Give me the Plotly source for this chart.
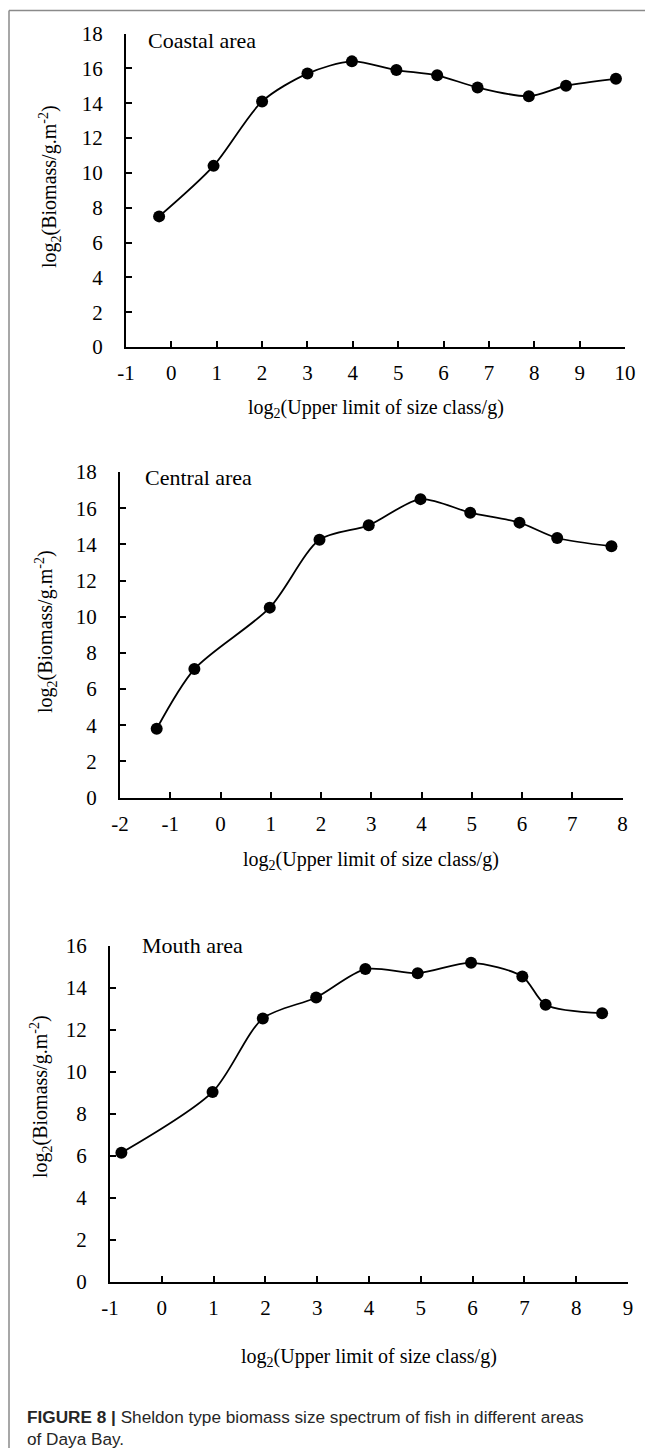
import plotly.graph_objects as go

W, H = 655, 1448

# ---- data ----
coastal_x = [-0.27, 0.93, 2.0, 3.0, 3.98, 4.96, 5.86, 6.75, 7.88, 8.7, 9.8]
coastal_y = [7.5, 10.4, 14.1, 15.7, 16.4, 15.9, 15.6, 14.9, 14.4, 15.0, 15.4]
central_x = [-1.27, -0.52, 0.98, 1.97, 2.95, 3.98, 4.97, 5.95, 6.7, 7.78]
central_y = [3.8, 7.1, 10.5, 14.25, 15.05, 16.5, 15.75, 15.2, 14.35, 13.9]
mouth_x = [-0.78, 0.98, 1.95, 2.98, 3.93, 4.94, 5.97, 6.96, 7.41, 8.5]
mouth_y = [6.15, 9.05, 12.55, 13.55, 14.9, 14.7, 15.2, 14.55, 13.2, 12.8]

panel_names = ["Coastal area", "Central area", "Mouth area"]
x_ticks_1 = list(range(-1, 11))
x_ticks_2 = list(range(-2, 9))
x_ticks_3 = list(range(-1, 10))
y_ticks_1 = list(range(0, 19, 2))
y_ticks_2 = list(range(0, 19, 2))
y_ticks_3 = list(range(0, 17, 2))

x_title = "log<sub>2</sub>(Upper limit of size class/g)"
y_title = "log<sub>2</sub>(Biomass/g.m<sup>-2</sup>)"
caption_1 = "<b>FIGURE 8 |</b> Sheldon type biomass size spectrum of fish in different areas"
caption_2 = "of Daya Bay."

SERIF = "Liberation Serif, Times New Roman, serif"
SANS = "Liberation Sans Narrow, Liberation Sans, Arial, sans-serif"

# panel geometry in pixels: (left, right, top, bottom)
boxes = [(126, 625, 33.5, 347), (120, 622.5, 472, 797.5), (110, 628, 946, 1282)]
xlabel_y = [408, 860, 1357]
ylabel_cy = [187, 632, 1097]
ylabel_x = [50, 46, 41]
name_pos = [(146, 40), (143, 477), (140, 945)]

series = [(coastal_x, coastal_y), (central_x, central_y), (mouth_x, mouth_y)]
xticks = [x_ticks_1, x_ticks_2, x_ticks_3]
yticks = [y_ticks_1, y_ticks_2, y_ticks_3]

TICK_SIZE = 21
TITLE_SIZE = 20
NAME_SIZE = 22

fig = go.Figure()
layout = dict(
    width=W, height=H,
    margin=dict(l=0, r=0, t=0, b=0, autoexpand=False),
    paper_bgcolor="white", plot_bgcolor="white",
    showlegend=False,
    font=dict(family=SERIF, size=TICK_SIZE, color="black"),
)

annotations = []
shapes = []
for i, ((xs, ys), (l, r, t, b)) in enumerate(zip(series, boxes)):
    k = "" if i == 0 else str(i + 1)
    fig.add_trace(go.Scatter(
        x=xs, y=ys, mode="lines+markers",
        line=dict(color="black", width=1.8, shape="spline", smoothing=0.8),
        marker=dict(color="black", size=12),
        cliponaxis=False,
        xaxis="x" + k, yaxis="y" + k,
    ))
    xt = xticks[i]
    yt = yticks[i]
    layout["xaxis" + k] = dict(
        domain=[l / W, r / W], anchor="y" + k,
        range=[xt[0], xt[-1]],
        tickmode="array", tickvals=xt, ticktext=[str(v) for v in xt],
        showline=True, linecolor="black", linewidth=2,
        ticks="inside", ticklen=6, tickwidth=2, tickcolor="black",
        showgrid=False, zeroline=False,
        tickfont=dict(family=SERIF, size=TICK_SIZE, color="black"),
        ticklabelstandoff=6,
        fixedrange=True,
    )
    layout["yaxis" + k] = dict(
        domain=[1 - b / H, 1 - t / H], anchor="x" + k,
        range=[yt[0], yt[-1]],
        tickmode="array", tickvals=yt, ticktext=[str(v) for v in yt],
        showline=True, linecolor="black", linewidth=2,
        ticks="inside", ticklen=6, tickwidth=2, tickcolor="black",
        showgrid=False, zeroline=False,
        tickfont=dict(family=SERIF, size=TICK_SIZE, color="black"),
        ticklabelstandoff=17,
        fixedrange=True,
    )
    annotations.append(dict(
        text=x_title, xref="paper", yref="paper",
        x=(l + r) / 2 / W, y=1 - xlabel_y[i] / H,
        xanchor="center", yanchor="middle", showarrow=False,
        font=dict(family=SERIF, size=TITLE_SIZE, color="black"),
    ))
    annotations.append(dict(
        text=y_title, xref="paper", yref="paper",
        x=ylabel_x[i] / W, y=1 - ylabel_cy[i] / H, textangle=-90,
        xanchor="center", yanchor="middle", showarrow=False,
        font=dict(family=SERIF, size=TITLE_SIZE, color="black"),
    ))
    nx, ny = name_pos[i]
    annotations.append(dict(
        text=panel_names[i], xref="paper", yref="paper",
        x=nx / W, y=1 - ny / H, xanchor="left", yanchor="middle",
        showarrow=False, font=dict(family=SERIF, size=NAME_SIZE, color="black"),
    ))

annotations.append(dict(
    text=caption_1, xref="paper", yref="paper",
    x=25 / W, y=1 - 1417 / H, xanchor="left", yanchor="middle",
    showarrow=False, font=dict(family=SANS, size=17.2, color="#262626"),
))
annotations.append(dict(
    text=caption_2, xref="paper", yref="paper",
    x=25 / W, y=1 - 1438.5 / H, xanchor="left", yanchor="middle",
    showarrow=False, font=dict(family=SANS, size=17.2, color="#262626"),
))

# outer frame lines (top and left)
shapes.append(dict(type="line", xref="paper", yref="paper",
                   x0=9 / W, x1=645 / W, y0=1 - 10.5 / H, y1=1 - 10.5 / H,
                   line=dict(color="#8a8a8a", width=1.5)))
shapes.append(dict(type="line", xref="paper", yref="paper",
                   x0=9 / W, x1=9 / W, y0=1 - 10.5 / H, y1=0,
                   line=dict(color="#8a8a8a", width=1.5)))

layout["annotations"] = annotations
layout["shapes"] = shapes
fig.update_layout(**layout)
fig.write_html("out.html")
